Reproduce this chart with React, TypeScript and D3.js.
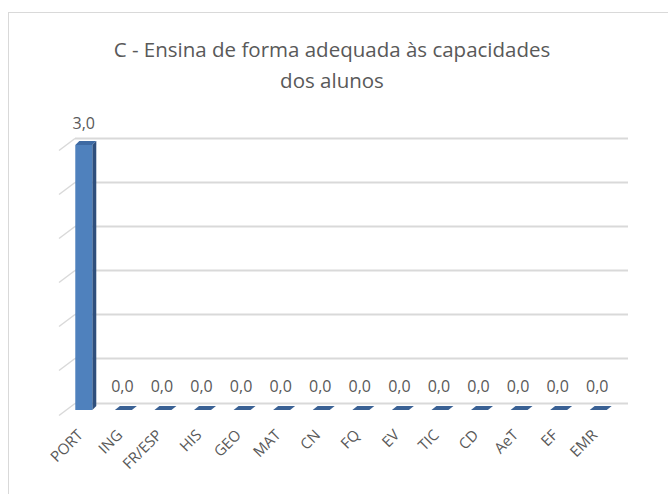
import React, { useRef, useEffect } from "react";
import * as d3 from "d3";

const categories = ["PORT", "ING", "FR/ESP", "HIS", "GEO", "MAT", "CN", "FQ", "EV", "TIC", "CD", "AeT", "EF", "EMR"];
const values = [3.0, 0, 0, 0, 0, 0, 0, 0, 0, 0, 0, 0, 0, 0];
const yTicks = [0, 0.5, 1, 1.5, 2, 2.5, 3];
const titleLines = ["C - Ensina de forma adequada às capacidades", "dos alunos"];

export default function App() {
  const ref = useRef<SVGSVGElement>(null);

  useEffect(() => {
    const width = 668;
    const height = 494;
    const svg = d3.select(ref.current);
    svg.selectAll("*").remove();
    svg.attr("width", width).attr("height", height);

    const font = "'Open Sans', sans-serif";
    const textColor = "#595959";

    // chart area border
    svg.append("rect")
      .attr("x", 8.5).attr("y", 12.5)
      .attr("width", 720).attr("height", 600)
      .attr("fill", "#fff").attr("stroke", "#d9d9d9");

    // title
    svg.append("g").selectAll("text").data(titleLines).enter().append("text")
      .attr("x", 332).attr("y", (d, i) => 57 + i * 31)
      .attr("text-anchor", "middle")
      .attr("font-family", font).attr("font-size", 20.5)
      .attr("fill", textColor)
      .text((d) => d);

    // front plane scales
    const x = d3.scaleBand().domain(categories).range([66, 620]).paddingInner(0);
    const y = d3.scaleLinear().domain([0, 3]).range([410, 145]);
    const depthX = 4, depthY = -4;     // bar depth
    const wallY = -7.5;                // back wall offset from front plane
    const stubX = 16, stubY = 12;      // left side diagonals

    // back wall gridlines + left stubs
    const grid = svg.append("g");
    yTicks.forEach((t) => {
      const gy = Math.round(y(t) + wallY) + 0.5;
      grid.append("line")
        .attr("x1", 75).attr("x2", 628)
        .attr("y1", gy).attr("y2", gy)
        .attr("stroke", "#d9d9d9").attr("stroke-width", 2);
      grid.append("line")
        .attr("x1", 75 - stubX).attr("y1", gy + stubY)
        .attr("x2", 75).attr("y2", gy)
        .attr("stroke", "#d9d9d9").attr("stroke-width", 1.5);
    });

    // bars
    const bw = 17;
    const bars = svg.append("g");
    categories.forEach((c, i) => {
      const v = values[i];
      const cx = (x(c) as number) + x.bandwidth() / 2;
      const x0 = cx - bw / 2 - 2;
      const x1 = x0 + bw;
      const yTop = y(v);
      const yBot = y(0);
      if (v > 0) {
        // side
        bars.append("path")
          .attr("d", `M${x1},${yTop} L${x1 + depthX},${yTop + depthY} L${x1 + depthX},${yBot + depthY} L${x1},${yBot} Z`)
          .attr("fill", "#2f4f7c");
        // front
        bars.append("rect")
          .attr("x", x0).attr("y", yTop).attr("width", bw).attr("height", yBot - yTop)
          .attr("fill", "#4f81bd");
        // top
        bars.append("path")
          .attr("d", `M${x0},${yTop} L${x0 + depthX},${yTop + depthY} L${x1 + depthX},${yTop + depthY} L${x1},${yTop} Z`)
          .attr("fill", "#3e6aa3");
      } else {
        bars.append("path")
          .attr("d", `M${x0},${yTop} L${x0 + depthX + 1},${yTop + depthY} L${x1 + depthX + 1},${yTop + depthY} L${x1},${yTop} Z`)
          .attr("fill", "#3a6194");
      }
      // value label
      bars.append("text")
        .attr("x", v > 0 ? x0 + bw / 2 : cx - 3)
        .attr("y", v > 0 ? yTop - 16 : yTop - 18)
        .attr("text-anchor", "middle")
        .attr("font-family", font).attr("font-size", 16)
        .attr("fill", textColor)
        .text(d3.format(".1f")(v).replace(".", ","));
      // category label
      bars.append("text")
        .attr("transform", `translate(${cx - 2},${436}) rotate(-45)`)
        .attr("text-anchor", "end")
        .attr("font-family", font).attr("font-size", 15)
        .attr("fill", textColor)
        .text(c);
    });
  }, []);

  return (
    <svg ref={ref} style={{ position: "absolute", left: 0, top: 0, background: "#fff" }}></svg>
  );
}
